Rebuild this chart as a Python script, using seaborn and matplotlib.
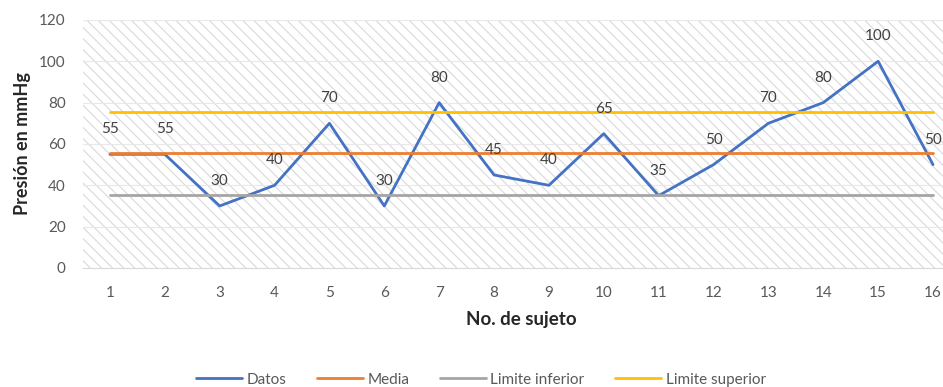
import matplotlib
matplotlib.use("Agg")
import matplotlib.pyplot as plt
from matplotlib.patches import Rectangle
import pandas as pd
import seaborn as sns

# values
sujetos = list(range(1, 17))
datos = [55, 55, 30, 40, 70, 30, 80, 45, 40, 65, 35, 50, 70, 80, 100, 50]
media = 55.5
limite_inferior = 35.5
limite_superior = 75.5
series = ["Datos", "Media", "Limite inferior", "Limite superior"]
colores = ["#4472C4", "#ED7D31", "#A5A5A5", "#FFC000"]

df = pd.DataFrame({
    "sujeto": sujetos * 4,
    "valor": datos + [media] * 16 + [limite_inferior] * 16 + [limite_superior] * 16,
    "serie": sum([[s] * 16 for s in series], []),
})

sns.set_style("white")
plt.rcParams["font.family"] = ["Lato", "DejaVu Sans"]
plt.rcParams["hatch.color"] = "#D9D9D9"
plt.rcParams["hatch.linewidth"] = 0.8

fig = plt.figure(figsize=(9.43, 3.87), dpi=100)
ax = fig.add_axes([0.0875, 0.3075, 0.931, 0.641])

# hatched plot-area background
ax.add_patch(Rectangle((0, 0), 1, 1, transform=ax.transAxes, facecolor="white",
                       edgecolor="#D9D9D9", hatch="\\\\\\", linewidth=0, zorder=0))

for v in range(20, 121, 20):
    ax.axhline(v, color="#E8E8E8", linewidth=0.8, zorder=0.5)

sns.lineplot(data=df, x="sujeto", y="valor", hue="serie", hue_order=series,
             palette=colores, linewidth=2.0, ax=ax, zorder=3)

for x, y in zip(sujetos, datos):
    ax.annotate(str(y), (x, y), xytext=(0, 13), textcoords="offset points",
                ha="center", va="bottom", fontsize=11, color="#404040", zorder=4)

ax.set_xlim(0.5, 16.5)
ax.set_ylim(0, 120)
ax.set_xticks(sujetos)
ax.set_yticks(range(0, 121, 20))
ax.tick_params(axis="both", length=0, labelsize=11, labelcolor="#595959")
ax.tick_params(axis="x", pad=13)
ax.tick_params(axis="y", pad=12)
for s in ["top", "right", "left"]:
    ax.spines[s].set_visible(False)
ax.spines["bottom"].set_color("#D9D9D9")

ax.set_xlabel("No. de sujeto", fontsize=13.5, fontweight="bold", labelpad=8)
ax.set_ylabel("Presión en mmHg", fontsize=13, fontweight="bold", labelpad=6)

leg = ax.legend(loc="center", bbox_to_anchor=((0.51 - 0.0875) / 0.931, -0.45),
                ncol=4, frameon=False, fontsize=11, handlelength=3.0,
                columnspacing=2.0, handletextpad=0.3)
for t in leg.get_texts():
    t.set_color("#595959")

fig.savefig("out.png", dpi=100)
